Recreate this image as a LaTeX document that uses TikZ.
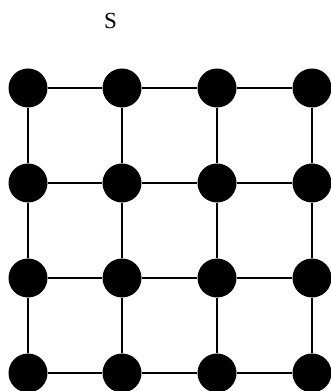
\documentclass[tikz,border=0pt]{standalone}
\usepackage{fontspec}
\setmainfont{Liberation Serif}
\begin{document}
\begin{tikzpicture}[x=1pt,y=1pt]
  % Estilos
  \tikzset{
    punto/.style={circle, fill=black, inner sep=0pt, minimum size=39pt},
    arista/.style={line width=1.6pt, black},
    etiqueta/.style={font=\fontsize{23}{26}\selectfont, inner sep=0pt}
  }

  % Marco de la figura
  \useasboundingbox (0,0) rectangle (331,391);
  \clip (0,0) rectangle (331,391);

  % Etiqueta superior
  \node[etiqueta] (S) at (110.5,369.5) {S};

  % Nodos de la malla
  \foreach \i/\x in {1/28,2/122,3/217,4/312} {
    \foreach \j/\y in {1/303,2/208,3/113,4/18} {
      \node[punto] (n\i\j) at (\x,\y) {};
    }
  }

  % Aristas horizontales
  \foreach \j in {1,...,4} {
    \draw[arista] (n1\j) -- (n2\j) -- (n3\j) -- (n4\j);
  }

  % Aristas verticales
  \foreach \i in {1,...,4} {
    \draw[arista] (n\i1) -- (n\i2) -- (n\i3) -- (n\i4);
  }
\end{tikzpicture}
\end{document}
